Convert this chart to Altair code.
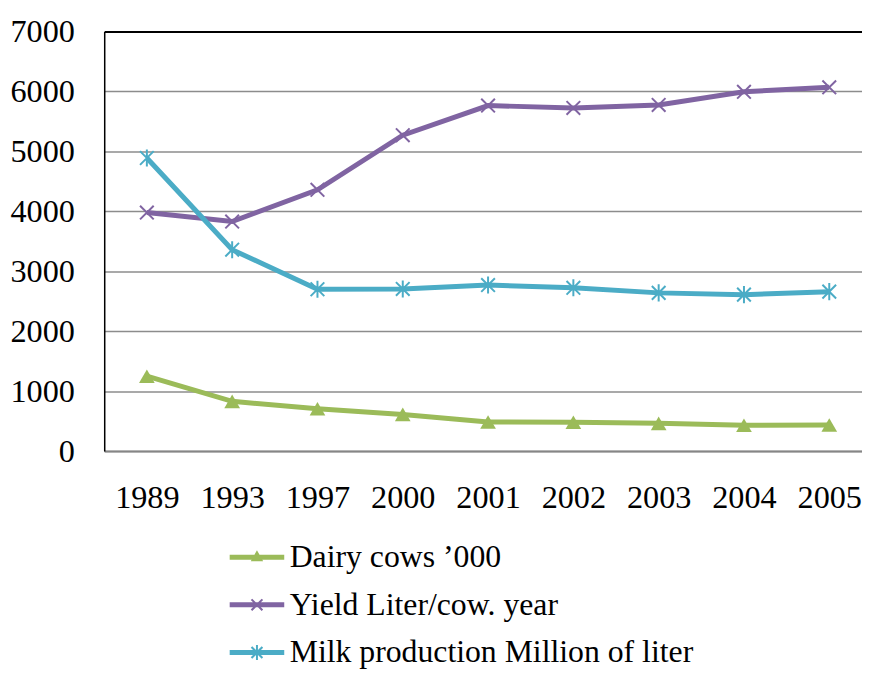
import altair as alt
import pandas as pd

years = ["1989", "1993", "1997", "2000", "2001", "2002", "2003", "2004", "2005"]
dairy = [1250, 830, 705, 612, 485, 480, 463, 432, 435]
yield_l = [3980, 3830, 4360, 5270, 5765, 5725, 5775, 5995, 6070]
milk = [4890, 3360, 2700, 2705, 2770, 2725, 2640, 2610, 2660]
series_names = ["Dairy cows \u2019000", "Yield Liter/cow. year", "Milk production Million of liter"]
colors = ["#9BBB59", "#8064A2", "#4BACC6"]
y_ticks = [0, 1000, 2000, 3000, 4000, 5000, 6000, 7000]

rows = []
for name, vals in zip(series_names, [dairy, yield_l, milk]):
    for yr, v in zip(years, vals):
        rows.append({"year": yr, "value": v, "series": name})
df = pd.DataFrame(rows)

FONT = "Liberation Serif"


def poly(pts):
    a = sum(pts[i][0] * pts[(i + 1) % len(pts)][1] - pts[(i + 1) % len(pts)][0] * pts[i][1] for i in range(len(pts)))
    if a < 0:
        pts = pts[::-1]
    return "M" + "L".join(f"{x:.3f},{y:.3f}" for x, y in pts) + "Z"


line_rect = poly([(-1.1, -0.1), (1.1, -0.1), (1.1, 0.1), (-1.1, 0.1)])
tri = poly([(0, -0.28), (0.25, 0.16), (-0.25, 0.16)])
d = 0.22
t = 0.03
diag1 = poly([(-d + t, -d - t), (d + t, d - t), (d - t, d + t), (-d - t, -d + t)])
diag2 = poly([(d - t, -d - t), (d + t, -d + t), (-d + t, d + t), (-d - t, d - t)])
vbar = poly([(-0.04, -0.3), (0.04, -0.3), (0.04, 0.3), (-0.04, 0.3)])
legend_paths = [line_rect + tri, line_rect + diag1 + diag2, line_rect + diag1 + diag2 + vbar]

x_path = "M-1,-1L1,1M-1,1L1,-1"
ast_path = "M-1,-1L1,1M-1,1L1,-1M0,-1.25L0,1.25"

xscale = alt.Scale(type="point", domain=years, range=[0, 774], padding=0.5)
yscale = alt.Scale(domain=[0, 7000], nice=False, zero=True)
cscale = alt.Scale(domain=series_names, range=colors)

base = alt.Chart(df)

lines = base.mark_line(strokeWidth=5).encode(
    x=alt.X("year:O", scale=xscale, sort=years,
            axis=alt.Axis(title=None, orient="bottom", labelAngle=0, ticks=False,
                          labelFont=FONT, labelFontSize=32.5, labelColor="black",
                          labelPadding=31, domainColor="#868686", domainWidth=2, grid=False)),
    y=alt.Y("value:Q", scale=yscale,
            axis=alt.Axis(title=None, values=y_ticks, format="d", ticks=False, labelFont=FONT,
                          labelFontSize=32.5, labelColor="black", labelPadding=30,
                          domainColor="black", domainWidth=1.5, grid=True,
                          gridColor="#8c8c8c", gridWidth=1.5)),
    color=alt.Color("series:N", scale=cscale, legend=None),
)

tris = base.transform_filter(alt.datum.series == series_names[0]).mark_point(
    shape="triangle-up", filled=True, size=250, opacity=1
).encode(
    x=alt.X("year:O", scale=xscale, sort=years, axis=None),
    y=alt.Y("value:Q", scale=yscale, axis=None),
    color=alt.Color("series:N", scale=cscale, legend=None),
)

crosses = base.transform_filter(alt.datum.series != series_names[0]).mark_point(
    filled=False, size=190, strokeWidth=2, opacity=1
).encode(
    x=alt.X("year:O", scale=xscale, sort=years, axis=None),
    y=alt.Y("value:Q", scale=yscale, axis=None),
    color=alt.Color("series:N", scale=cscale, legend=None),
    shape=alt.Shape("series:N", scale=alt.Scale(domain=series_names[1:], range=[x_path, ast_path]), legend=None),
)

legend_layer = base.transform_filter(alt.datum.value < 0).mark_point(filled=True, opacity=1).encode(
    x=alt.X("year:O", scale=xscale, sort=years,
            axis=alt.Axis(title=None, orient="top", labels=False, ticks=False,
                          domainColor="black", domainWidth=2, grid=False, zindex=1)),
    y=alt.Y("value:Q", scale=yscale, axis=None),
    color=alt.Color("series:N", scale=cscale,
                    legend=alt.Legend(title=None, orient="none", legendX=129, legendY=505,
                                      direction="vertical", symbolSize=2500, symbolStrokeWidth=0,
                                      symbolOpacity=1, labelFont=FONT, labelFontSize=32,
                                      labelColor="black", labelOffset=8, rowPadding=7, padding=0,
                                      labelLimit=0)),
    shape=alt.Shape("series:N", scale=alt.Scale(domain=series_names, range=legend_paths)),
)

chart = alt.layer(lines, tris, crosses, legend_layer).resolve_scale(
    shape="independent"
).resolve_axis(x="independent", y="independent").resolve_legend(
    color="independent", shape="independent"
).properties(
    width=764, height=423,
    autosize=alt.AutoSizeParams(type="none"),
    padding={"left": 97, "top": 21, "right": 0, "bottom": 220},
).configure_view(stroke=None).configure(background="white")

chart.save("out.html", embed_options={"renderer": "svg", "actions": False})
